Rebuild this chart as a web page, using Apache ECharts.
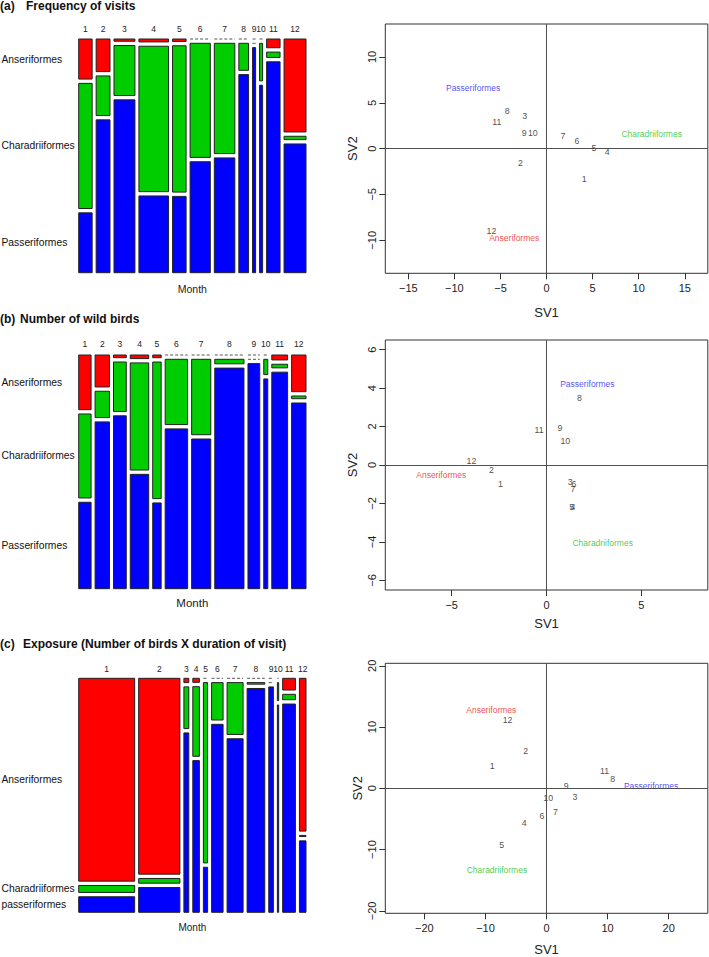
<!DOCTYPE html>
<html>
<head>
<meta charset="utf-8">
<script src="https://cdn.jsdelivr.net/npm/echarts@6/dist/echarts.min.js"></script>
<style>
html, body { margin: 0; padding: 0; background: #fff; }
#main { width: 709px; height: 957px; }
</style>
</head>
<body>
<div id="main"></div>
<script>
// months and orders
const months = ['1', '2', '3', '4', '5', '6', '7', '8', '9', '10', '11', '12'];
const species = ['Anseriformes', 'Charadriiformes', 'Passeriformes'];
const speciesLabelsC = ['Anseriformes', 'Charadriiformes', 'passeriformes'];
const fillColors = ['#ff0000', '#00cd00', '#0000ff'];
const textColors = ['#f01818', '#22c022', '#2424ff'];

// (a) frequency of visits - column widths (relative) and shares per order
const visitsWidth = [13.3, 13.7, 20.7, 29.3, 13.4, 20, 20.3, 9.6, 3, 3, 13.3, 21.7];
const visitsAnser = [0.178, 0.145, 0.010, 0.013, 0.011, 0, 0, 0, 0, 0, 0.039, 0.413];
const visitsChar = [0.556, 0.176, 0.222, 0.646, 0.650, 0.507, 0.490, 0.120, 0, 0.167, 0.024, 0.015];
const visitsPass = [0.266, 0.679, 0.768, 0.341, 0.339, 0.493, 0.510, 0.880, 1, 0.833, 0.937, 0.572];

// (b) number of wild birds
const birdsWidth = [12.3, 14.3, 12.7, 18.3, 8.4, 22.3, 19, 29, 11.7, 4, 15.7, 14.3];
const birdsAnser = [0.243, 0.142, 0.012, 0.016, 0.012, 0, 0, 0, 0, 0, 0.022, 0.163];
const birdsChar = [0.373, 0.117, 0.220, 0.476, 0.607, 0.290, 0.335, 0.020, 0, 0.068, 0.016, 0.012];
const birdsPass = [0.384, 0.741, 0.768, 0.508, 0.381, 0.710, 0.665, 0.980, 1, 0.932, 0.962, 0.825];

// (c) exposure
const exposureWidth = [57, 42, 5, 6.7, 4.3, 11.7, 16.3, 18, 4.7, 1.3, 13, 6.7];
const exposureAnser = [0.900, 0.869, 0.019, 0.018, 0, 0, 0, 0, 0, 0, 0.052, 0.678];
const exposureChar = [0.031, 0.021, 0.185, 0.309, 0.800, 0.166, 0.230, 0.007, 0, 0.080, 0.024, 0.005];
const exposurePass = [0.069, 0.110, 0.796, 0.673, 0.200, 0.834, 0.770, 0.993, 1, 0.920, 0.924, 0.317];

// biplot coordinates (SV1, SV2) for months
const visitsSV1 = [4.09, -2.83, -2.36, 6.59, 5.14, 3.30, 1.78, -4.28, -2.43, -1.49, -5.40, -5.98];
const visitsSV2 = [-3.30, -1.52, 3.52, -0.40, 0.04, 0.80, 1.38, 4.10, 1.67, 1.67, 2.87, -8.97];
const visitsSpSV1 = [-3.51, 11.41, -7.97];
const visitsSpSV2 = [-9.73, 1.63, 6.64];

const birdsSV1 = [-2.43, -2.90, 1.25, 1.39, 1.32, 1.44, 1.39, 1.73, 0.70, 0.99, -0.40, -3.96];
const birdsSV2 = [-1.00, -0.28, -0.88, -2.20, -2.18, -0.99, -1.25, 3.49, 1.91, 1.23, 1.80, 0.21];
const birdsSpSV1 = [-5.55, 2.96, 2.15];
const birdsSpSV2 = [-0.52, -4.07, 4.23];

const exposureSV1 = [-8.88, -3.43, 4.63, -3.65, -7.36, -0.76, 1.47, 10.84, 3.22, 0.27, 9.48, -6.38];
const exposureSV2 = [3.59, 6.05, -1.36, -5.72, -9.31, -4.47, -3.81, 1.58, 0.44, -1.58, 2.89, 11.17];
const exposureSpSV1 = [-9.05, -8.12, 17.11];
const exposureSpSV2 = [12.85, -13.4, 0.44];

// tick labels
const visitsTicksX = [-15, -10, -5, 0, 5, 10, 15];
const visitsTicksY = [-10, -5, 0, 5, 10];
const birdsTicksX = [-5, 0, 5];
const birdsTicksY = [-6, -4, -2, 0, 2, 4, 6];
const exposureTicksX = [-20, -10, 0, 10, 20];
const exposureTicksY = [-20, -10, 0, 10, 20];

const FONT = 'Liberation Sans, Arial, sans-serif';
const GAP_X = 0.0176;
const GAP_Y = 0.0184;

function mosaicLayout(widths, shares) {
  const total = widths.reduce((a, b) => a + b, 0);
  const usable = 1 - GAP_X * (widths.length - 1);
  let x = 0;
  return widths.map((w, i) => {
    const cw = w / total * usable;
    const col = { x0: x, x1: x + cw, segs: [] };
    x += cw + GAP_X;
    const s = shares.map(arr => arr[i]);
    const sum = s.reduce((a, b) => a + b, 0);
    const usableY = 1 - GAP_Y * (s.length - 1);
    let y = 1;
    s.forEach((v, k) => {
      const h = v / sum * usableY;
      col.segs.push({ top: y, bot: y - h, k: k });
      y -= h + GAP_Y;
    });
    return col;
  });
}

function mosaicRender(layout, labels, monthGap) {
  return function (params, api) {
    const i = params.dataIndex;
    const col = layout[i];
    const children = [];
    col.segs.forEach(seg => {
      const p0 = api.coord([col.x0, seg.top]);
      const p1 = api.coord([col.x1, seg.bot]);
      if (seg.top - seg.bot < 1e-6) {
        children.push({
          type: 'line',
          shape: { x1: p0[0], y1: p0[1], x2: p1[0], y2: p0[1] },
          style: { stroke: '#555', lineWidth: 1, lineDash: [3, 2] }
        });
      } else {
        children.push({
          type: 'rect',
          shape: { x: p0[0], y: p0[1], width: p1[0] - p0[0], height: p1[1] - p0[1] },
          style: { fill: fillColors[seg.k], stroke: '#222', lineWidth: 1 }
        });
      }
    });
    const top = api.coord([(col.x0 + col.x1) / 2, 1]);
    children.push({
      type: 'text',
      style: {
        text: months[i], x: top[0], y: top[1] - monthGap,
        align: 'center', verticalAlign: 'middle',
        font: '8.5px ' + FONT, fill: '#222'
      }
    });
    if (i === 0) {
      col.segs.forEach(seg => {
        const c = api.coord([0, (seg.top + seg.bot) / 2]);
        children.push({
          type: 'text',
          style: {
            text: labels[seg.k], x: 1.5, y: c[1],
            align: 'left', verticalAlign: 'middle',
            font: '10.3px ' + FONT, fill: '#111'
          }
        });
      });
    }
    return { type: 'group', children: children };
  };
}

const layoutA = mosaicLayout(visitsWidth, [visitsAnser, visitsChar, visitsPass]);
const layoutB = mosaicLayout(birdsWidth, [birdsAnser, birdsChar, birdsPass]);
const layoutC = mosaicLayout(exposureWidth, [exposureAnser, exposureChar, exposurePass]);

function minusFmt(v) {
  return String(v).replace('-', '\u2212');
}

function svXAxis(gridIndex, r, ticks, gap) {
  return {
    gridIndex: gridIndex, type: 'value', min: -r, max: r,
    axisLine: { show: false, onZero: false },
    axisTick: { show: true, inside: false, length: 6, customValues: ticks, lineStyle: { color: '#333' } },
    axisLabel: { customValues: ticks, formatter: minusFmt, color: '#222', fontSize: 11, margin: 9, fontFamily: FONT },
    splitLine: { show: false },
    name: 'SV1', nameLocation: 'middle', nameGap: gap,
    nameTextStyle: { fontSize: 13, color: '#222', fontFamily: FONT }
  };
}

function svYAxis(gridIndex, r, ticks, gap) {
  return {
    gridIndex: gridIndex, type: 'value', min: -r, max: r,
    axisLine: { show: false, onZero: false },
    axisTick: { show: true, inside: false, length: 6, customValues: ticks, lineStyle: { color: '#333' } },
    axisLabel: { customValues: ticks, formatter: minusFmt, color: '#222', fontSize: 11, margin: 8, rotate: 90, fontFamily: FONT },
    splitLine: { show: false },
    name: 'SV2', nameLocation: 'middle', nameGap: gap, nameRotate: 90,
    nameTextStyle: { fontSize: 13, color: '#222', fontFamily: FONT }
  };
}

function monthSeries(idx, sv1, sv2) {
  return {
    type: 'scatter', xAxisIndex: idx, yAxisIndex: idx,
    symbolSize: 0.1, itemStyle: { color: 'rgba(0,0,0,0)' },
    silent: true,
    data: months.map((m, i) => ({ name: m, value: [sv1[i], sv2[i]] })),
    label: {
      show: true, position: 'inside', formatter: '{b}', color: '#1a1a1a',
      textBorderWidth: 0, fontSize: 8.8, fontFamily: FONT
    },
    markLine: {
      silent: true, symbol: ['none', 'none'], animation: false,
      label: { show: false },
      lineStyle: { color: '#505050', width: 1, type: 'solid' },
      data: [{ xAxis: 0 }, { yAxis: 0 }]
    }
  };
}

function speciesSeries(idx, sv1, sv2) {
  return {
    type: 'scatter', xAxisIndex: idx, yAxisIndex: idx,
    symbolSize: 0.1, itemStyle: { color: 'rgba(0,0,0,0)' },
    silent: true,
    data: species.map((s, k) => ({
      name: s, value: [sv1[k], sv2[k]],
      label: { color: textColors[k] }
    })),
    label: { show: true, position: 'inside', formatter: '{b}', textBorderWidth: 0, fontSize: 8.5, fontFamily: FONT }
  };
}

function mosaicAxes(gridIndex, gap, size) {
  return {
    x: {
      gridIndex: gridIndex, type: 'value', min: 0, max: 1,
      axisLine: { show: false }, axisTick: { show: false }, axisLabel: { show: false },
      splitLine: { show: false },
      name: 'Month', nameLocation: 'middle', nameGap: gap,
      nameTextStyle: { fontSize: size, color: '#222', fontFamily: FONT }
    },
    y: {
      gridIndex: gridIndex, type: 'value', min: 0, max: 1,
      axisLine: { show: false }, axisTick: { show: false }, axisLabel: { show: false },
      splitLine: { show: false }
    }
  };
}

const mA = mosaicAxes(0, 11, 10.5);
const mB = mosaicAxes(1, 8, 11.5);
const mC = mosaicAxes(2, 10, 10);

const chart = echarts.init(document.getElementById('main'), null, { renderer: 'svg' });

const titleStyle = { fontSize: 12, fontWeight: 'bold', color: '#111', fontFamily: FONT };

const option = {
  animation: false,
  backgroundColor: '#fff',
  textStyle: { fontFamily: FONT },
  title: [
    { text: '(a)', left: 0, top: 0, padding: 0, textStyle: titleStyle },
    { text: 'Frequency of visits', left: 26, top: 0, padding: 0, textStyle: titleStyle },
    { text: '(b)', left: 0, top: 313, padding: 0, textStyle: titleStyle },
    { text: 'Number of wild birds', left: 20, top: 313, padding: 0, textStyle: titleStyle },
    { text: '(c)', left: 0, top: 638, padding: 0, textStyle: titleStyle },
    { text: 'Exposure (Number of birds X duration of visit)', left: 23, top: 638, padding: 0, textStyle: titleStyle }
  ],
  grid: [
    { left: 78.7, top: 39, width: 227.3, height: 233.7 },
    { left: 78.7, top: 355, width: 227.3, height: 233.7 },
    { left: 78.7, top: 678.3, width: 227.3, height: 234 },
    { left: 385.3, top: 24, width: 322.5, height: 249.3, show: true, borderColor: '#333', borderWidth: 1 },
    { left: 385.3, top: 340, width: 322.5, height: 250, show: true, borderColor: '#333', borderWidth: 1 },
    { left: 385.3, top: 663.3, width: 322.5, height: 250, show: true, borderColor: '#333', borderWidth: 1 }
  ],
  xAxis: [
    mA.x, mB.x, mC.x,
    svXAxis(3, 17.5, visitsTicksX, 33),
    svXAxis(4, 8.5, birdsTicksX, 27),
    svXAxis(5, 26.4, exposureTicksX, 29.5)
  ],
  yAxis: [
    mA.y, mB.y, mC.y,
    svYAxis(3, 13.6, visitsTicksY, 26),
    svYAxis(4, 6.5, birdsTicksY, 26),
    svYAxis(5, 20.4, exposureTicksY, 21.5)
  ],
  series: [
    { type: 'custom', xAxisIndex: 0, yAxisIndex: 0, silent: true, renderItem: mosaicRender(layoutA, species, 9.7), data: months.map((m, i) => [i / 12, 0.5]) },
    { type: 'custom', xAxisIndex: 1, yAxisIndex: 1, silent: true, renderItem: mosaicRender(layoutB, species, 10.7), data: months.map((m, i) => [i / 12, 0.5]) },
    { type: 'custom', xAxisIndex: 2, yAxisIndex: 2, silent: true, renderItem: mosaicRender(layoutC, speciesLabelsC, 9), data: months.map((m, i) => [i / 12, 0.5]) },
    monthSeries(3, visitsSV1, visitsSV2),
    speciesSeries(3, visitsSpSV1, visitsSpSV2),
    monthSeries(4, birdsSV1, birdsSV2),
    speciesSeries(4, birdsSpSV1, birdsSpSV2),
    monthSeries(5, exposureSV1, exposureSV2),
    speciesSeries(5, exposureSpSV1, exposureSpSV2)
  ]
};

chart.setOption(option);
</script>
</body>
</html>
